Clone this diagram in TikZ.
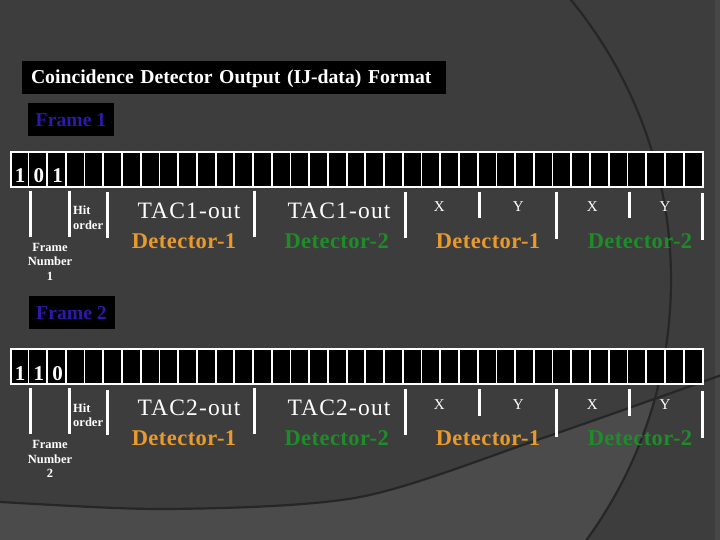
\documentclass[tikz,border=0pt]{standalone}
\usepackage{fontspec}
\setmainfont{Liberation Serif}
\usetikzlibrary{calc}
\definecolor{bg}{HTML}{3D3D3D}
\definecolor{bglight}{HTML}{4B4B4B}
\definecolor{bgstrip}{HTML}{474747}
\definecolor{curvecol}{HTML}{262626}
\definecolor{detorange}{HTML}{E89A2C}
\definecolor{detgreen}{HTML}{1E8C28}
\definecolor{frameblue}{HTML}{2D19AA}
\tikzset{
  regbox/.style={draw=white, line width=2pt, fill=black, minimum width=692.6pt, minimum height=35pt, inner sep=0pt},
  regline/.style={draw=white, line width=1.8pt},
  sepbar/.style={draw=white, line width=3pt},
  biglabel/.style={text=white, font=\fontsize{23.5}{24}\selectfont\addfontfeature{LetterSpace=5}, anchor=base, inner sep=0pt},
  detlabel/.style={font=\bfseries\fontsize{22.5}{24}\selectfont\addfontfeature{LetterSpace=2}, anchor=base, inner sep=0pt},
  smalllabel/.style={text=white, font=\bfseries\fontsize{12.5}{14.5}\selectfont, inner sep=0pt},
  xylabel/.style={text=white, font=\fontsize{15}{15}\selectfont, anchor=base, inner sep=0pt},
  digitlabel/.style={text=white, font=\bfseries\fontsize{21}{21}\selectfont, anchor=base, inner sep=0pt},
  titlebox/.style={fill=black, text=white, font=\bfseries\fontsize{19.7}{20}\selectfont,
    text width=406pt, align=left, inner xsep=9pt, inner ysep=0pt, minimum height=33pt,
    text height=13pt, text depth=0pt},
  framebox/.style={fill=black, text=frameblue, font=\bfseries\fontsize{19.7}{20}\selectfont,
    minimum width=86pt, minimum height=33pt, inner sep=0pt, text height=13.3pt, text depth=0pt},
  deco/.style={draw=curvecol, line width=2.2pt}
}
\begin{document}
\begin{tikzpicture}[x=1pt, y=-1pt]
\useasboundingbox (0,0) rectangle (720,540);
\begin{scope}
  \clip (0,0) rectangle (720,540);
  \fill[bg] (0,0) rectangle (720,540);
  \begin{scope}
    \clip (229,280) circle (442);
    \fill[bglight] plot[smooth] coordinates {(-10,501) (0,502) (170,509) (360,497) (540,439) (730,372)} -- (730,550) -- (-10,550) -- cycle;
  \end{scope}
  \fill[bgstrip] (715,0) rectangle (720,540);
  \draw[deco] (229,280) circle (442);
  \draw[deco] plot[smooth] coordinates {(-10,501) (0,502) (170,509) (360,497) (540,439) (730,372)};
\end{scope}

\node[titlebox] (title) at (234,77.5) {Coincidence Detector Output (IJ-data) Format};
\node[framebox] (frame1) at (71,119.5) {Frame 1};
\node[framebox] (frame2) at (71.5,312.5) {Frame 2};

\foreach \r/\dy/\da/\db/\dc/\tac in {1/0/1/0/1/1, 2/197.6/1/1/0/2}{
  \node[regbox] (reg\r) at (357,169.2+\dy) {};
  \foreach \i in {1,...,36}{
    \draw[regline] ($(reg\r.north west)+(\i*18.72,0)$) -- ++(0,35);
  }
  \node[digitlabel] (da\r) at (20.06,182.7+\dy) {\da};
  \node[digitlabel] (db\r) at (38.78,182.7+\dy) {\db};
  \node[digitlabel] (dc\r) at (57.5,182.7+\dy) {\dc};
  % separator bars
  \draw[sepbar] (30.7,190.7+\dy) -- (30.7,236.7+\dy);
  \draw[sepbar] (69,190.7+\dy) -- (69,236.7+\dy);
  \draw[sepbar] (107.3,192.3+\dy) -- (107.3,237.7+\dy);
  \draw[sepbar] (254.3,190.7+\dy) -- (254.3,236.7+\dy);
  \draw[sepbar] (405,191.7+\dy) -- (405,237.7+\dy);
  \draw[sepbar] (479.3,191.7+\dy) -- (479.3,218.3+\dy);
  \draw[sepbar] (556.7,191.7+\dy) -- (556.7,239+\dy);
  \draw[sepbar] (629.3,191.7+\dy) -- (629.3,218.3+\dy);
  \draw[sepbar] (702.7,193.3+\dy) -- (702.7,240+\dy);
  % labels
  \node[smalllabel, anchor=north west, align=left] (hit\r) at (73,205.7+\dy) {Hit\\order};
  \node[smalllabel, anchor=north, align=center] (fn\r) at (50,242.7+\dy) {Frame\\Number\\\r};
  \node[biglabel] (taca\r) at (189,218.3+\dy) {TAC\tac-out};
  \node[detlabel, text=detorange] (deta\r) at (184,248.3+\dy) {Detector-1};
  \node[biglabel] (tacb\r) at (339,218.3+\dy) {TAC\tac-out};
  \node[detlabel, text=detgreen] (detb\r) at (336.7,248.3+\dy) {Detector-2};
  \node[xylabel] (xa\r) at (439.3,211.7+\dy) {X};
  \node[xylabel] (ya\r) at (518.3,211.7+\dy) {Y};
  \node[detlabel, text=detorange] (detc\r) at (488,248.3+\dy) {Detector-1};
  \node[xylabel] (xb\r) at (592.3,211.7+\dy) {X};
  \node[xylabel] (yb\r) at (665,211.7+\dy) {Y};
  \node[detlabel, text=detgreen] (detd\r) at (640,248.3+\dy) {Detector-2};
}
\end{tikzpicture}
\end{document}
